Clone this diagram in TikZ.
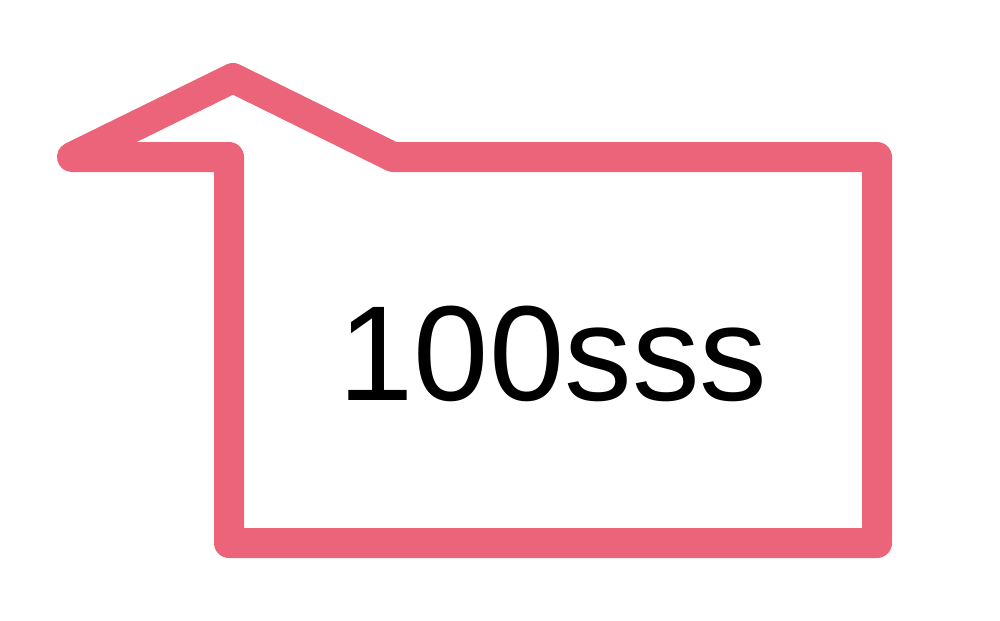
\documentclass[tikz,border=0pt]{standalone}
\usepackage{fontspec}
\setmainfont{Liberation Sans}
\usepackage{tikz}
\usetikzlibrary{positioning}
\definecolor{calloutpink}{RGB}{236,100,122}

\begin{document}
\begin{tikzpicture}[
  outline/.style={draw=calloutpink, line width=0.3cm, line join=round, line cap=round},
  label/.style={font=\fontsize{38.5pt}{41pt}\selectfont, text=black, anchor=base, inner sep=0pt}
]
\useasboundingbox (0,0) rectangle (10,6.2);
\coordinate (tip) at (0.72,4.63);
\coordinate (peak) at (2.33,5.42);
\coordinate (knee) at (3.93,4.63);
\coordinate (topright) at (8.77,4.63);
\coordinate (bottomright) at (8.77,0.77);
\coordinate (bottomleft) at (2.29,0.77);
\coordinate (innerleft) at (2.29,4.63);
\draw[outline] (tip) -- (peak) -- (knee) -- (topright) -- (bottomright) -- (bottomleft) -- (innerleft) -- cycle;
\node[label] (value) at (5.53,2.20) {100sss};
\end{tikzpicture}
\end{document}
